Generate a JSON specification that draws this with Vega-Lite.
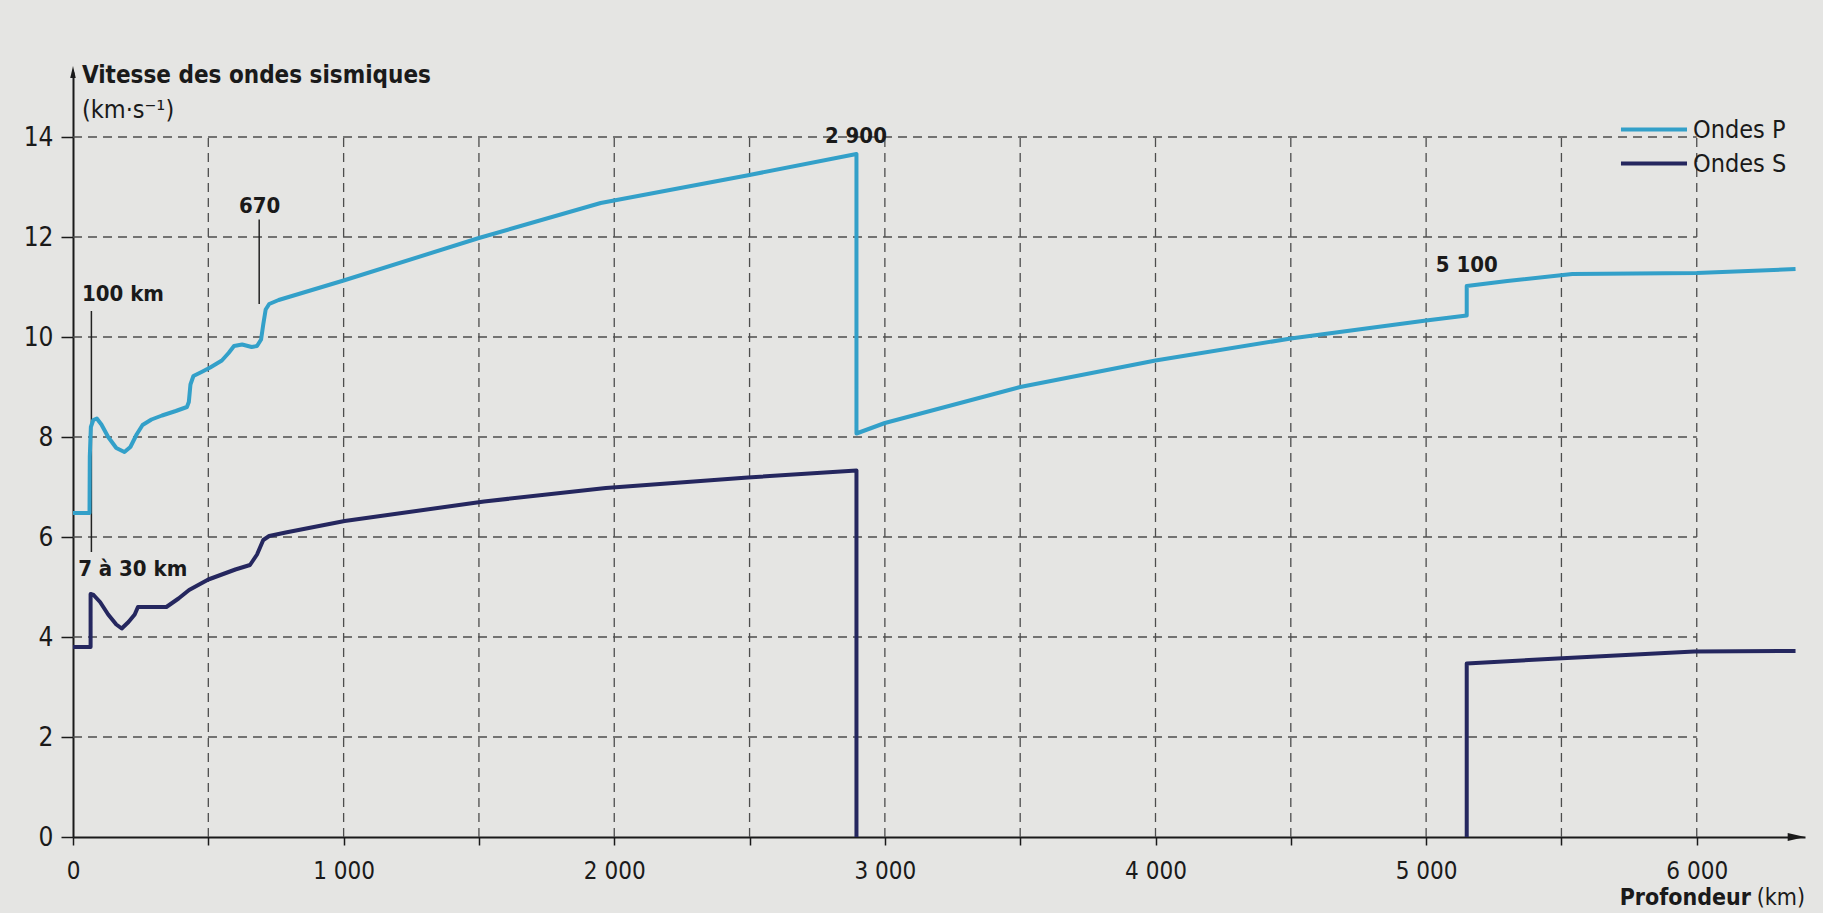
{
  "$schema": "https://vega.github.io/schema/vega-lite/v6.json",
  "width": 1732,
  "height": 765,
  "autosize": {"type": "none"},
  "padding": {"left": 73, "top": 72, "right": 18, "bottom": 76},
  "background": "#e5e5e3",
  "config": {
    "view": {"stroke": null},
    "font": "DejaVu Sans Condensed, DejaVu Sans, sans-serif",
    "text": {"font": "DejaVu Sans Condensed, DejaVu Sans, sans-serif", "color": "#1a1a1a"}
  },
  "datasets": {
    "ondes": [
      {"onde": "Ondes P", "seg": 1, "km": 0, "v": 6.48},
      {"onde": "Ondes P", "seg": 1, "km": 61, "v": 6.48},
      {"onde": "Ondes P", "seg": 1, "km": 62, "v": 7.6},
      {"onde": "Ondes P", "seg": 1, "km": 66, "v": 8.2},
      {"onde": "Ondes P", "seg": 1, "km": 75, "v": 8.34},
      {"onde": "Ondes P", "seg": 1, "km": 88, "v": 8.37},
      {"onde": "Ondes P", "seg": 1, "km": 105, "v": 8.25},
      {"onde": "Ondes P", "seg": 1, "km": 130, "v": 8.0},
      {"onde": "Ondes P", "seg": 1, "km": 160, "v": 7.78},
      {"onde": "Ondes P", "seg": 1, "km": 190, "v": 7.7},
      {"onde": "Ondes P", "seg": 1, "km": 212, "v": 7.8},
      {"onde": "Ondes P", "seg": 1, "km": 235, "v": 8.05},
      {"onde": "Ondes P", "seg": 1, "km": 257, "v": 8.24},
      {"onde": "Ondes P", "seg": 1, "km": 290, "v": 8.35},
      {"onde": "Ondes P", "seg": 1, "km": 329, "v": 8.43},
      {"onde": "Ondes P", "seg": 1, "km": 380, "v": 8.52},
      {"onde": "Ondes P", "seg": 1, "km": 421, "v": 8.6},
      {"onde": "Ondes P", "seg": 1, "km": 428, "v": 8.7},
      {"onde": "Ondes P", "seg": 1, "km": 434, "v": 9.05},
      {"onde": "Ondes P", "seg": 1, "km": 445, "v": 9.22},
      {"onde": "Ondes P", "seg": 1, "km": 475, "v": 9.3},
      {"onde": "Ondes P", "seg": 1, "km": 507, "v": 9.39},
      {"onde": "Ondes P", "seg": 1, "km": 550, "v": 9.53},
      {"onde": "Ondes P", "seg": 1, "km": 575, "v": 9.68},
      {"onde": "Ondes P", "seg": 1, "km": 595, "v": 9.82},
      {"onde": "Ondes P", "seg": 1, "km": 625, "v": 9.85},
      {"onde": "Ondes P", "seg": 1, "km": 660, "v": 9.8},
      {"onde": "Ondes P", "seg": 1, "km": 680, "v": 9.82},
      {"onde": "Ondes P", "seg": 1, "km": 695, "v": 9.95},
      {"onde": "Ondes P", "seg": 1, "km": 703, "v": 10.25},
      {"onde": "Ondes P", "seg": 1, "km": 712, "v": 10.55},
      {"onde": "Ondes P", "seg": 1, "km": 725, "v": 10.66},
      {"onde": "Ondes P", "seg": 1, "km": 760, "v": 10.74},
      {"onde": "Ondes P", "seg": 1, "km": 1000, "v": 11.13},
      {"onde": "Ondes P", "seg": 1, "km": 1500, "v": 11.98},
      {"onde": "Ondes P", "seg": 1, "km": 1950, "v": 12.68},
      {"onde": "Ondes P", "seg": 1, "km": 2490, "v": 13.23},
      {"onde": "Ondes P", "seg": 1, "km": 2895, "v": 13.66},
      {"onde": "Ondes P", "seg": 1, "km": 2895, "v": 8.07},
      {"onde": "Ondes P", "seg": 1, "km": 3000, "v": 8.28},
      {"onde": "Ondes P", "seg": 1, "km": 3500, "v": 9.0},
      {"onde": "Ondes P", "seg": 1, "km": 4000, "v": 9.53},
      {"onde": "Ondes P", "seg": 1, "km": 4500, "v": 9.97},
      {"onde": "Ondes P", "seg": 1, "km": 5000, "v": 10.33},
      {"onde": "Ondes P", "seg": 1, "km": 5150, "v": 10.43},
      {"onde": "Ondes P", "seg": 1, "km": 5150, "v": 11.02},
      {"onde": "Ondes P", "seg": 1, "km": 5300, "v": 11.12},
      {"onde": "Ondes P", "seg": 1, "km": 5540, "v": 11.26},
      {"onde": "Ondes P", "seg": 1, "km": 6000, "v": 11.28},
      {"onde": "Ondes P", "seg": 1, "km": 6365, "v": 11.36},
      {"onde": "Ondes S", "seg": 1, "km": 0, "v": 3.8},
      {"onde": "Ondes S", "seg": 1, "km": 65, "v": 3.8},
      {"onde": "Ondes S", "seg": 1, "km": 65, "v": 4.86},
      {"onde": "Ondes S", "seg": 1, "km": 76, "v": 4.84},
      {"onde": "Ondes S", "seg": 1, "km": 100, "v": 4.7},
      {"onde": "Ondes S", "seg": 1, "km": 130, "v": 4.45},
      {"onde": "Ondes S", "seg": 1, "km": 160, "v": 4.25},
      {"onde": "Ondes S", "seg": 1, "km": 180, "v": 4.17},
      {"onde": "Ondes S", "seg": 1, "km": 205, "v": 4.3},
      {"onde": "Ondes S", "seg": 1, "km": 228, "v": 4.45},
      {"onde": "Ondes S", "seg": 1, "km": 240, "v": 4.6},
      {"onde": "Ondes S", "seg": 1, "km": 290, "v": 4.6},
      {"onde": "Ondes S", "seg": 1, "km": 345, "v": 4.6},
      {"onde": "Ondes S", "seg": 1, "km": 390, "v": 4.77},
      {"onde": "Ondes S", "seg": 1, "km": 429, "v": 4.94},
      {"onde": "Ondes S", "seg": 1, "km": 500, "v": 5.15},
      {"onde": "Ondes S", "seg": 1, "km": 600, "v": 5.35},
      {"onde": "Ondes S", "seg": 1, "km": 654, "v": 5.44},
      {"onde": "Ondes S", "seg": 1, "km": 680, "v": 5.65},
      {"onde": "Ondes S", "seg": 1, "km": 703, "v": 5.94},
      {"onde": "Ondes S", "seg": 1, "km": 725, "v": 6.02},
      {"onde": "Ondes S", "seg": 1, "km": 786, "v": 6.09},
      {"onde": "Ondes S", "seg": 1, "km": 1004, "v": 6.32},
      {"onde": "Ondes S", "seg": 1, "km": 1519, "v": 6.71},
      {"onde": "Ondes S", "seg": 1, "km": 1969, "v": 6.98},
      {"onde": "Ondes S", "seg": 1, "km": 2494, "v": 7.19},
      {"onde": "Ondes S", "seg": 1, "km": 2895, "v": 7.33},
      {"onde": "Ondes S", "seg": 1, "km": 2895, "v": 0},
      {"onde": "Ondes S", "seg": 2, "km": 5150, "v": 0},
      {"onde": "Ondes S", "seg": 2, "km": 5150, "v": 3.47},
      {"onde": "Ondes S", "seg": 2, "km": 5485, "v": 3.57},
      {"onde": "Ondes S", "seg": 2, "km": 5991, "v": 3.71},
      {"onde": "Ondes S", "seg": 2, "km": 6365, "v": 3.72}
    ],
    "gridV": [
      {"km": 500}, {"km": 1000}, {"km": 1500}, {"km": 2000}, {"km": 2500}, {"km": 3000},
      {"km": 3500}, {"km": 4000}, {"km": 4500}, {"km": 5000}, {"km": 5500}, {"km": 6000}
    ],
    "gridH": [
      {"v": 2}, {"v": 4}, {"v": 6}, {"v": 8}, {"v": 10}, {"v": 12}, {"v": 14}
    ],
    "leaders": [
      {"km": 68, "v1": 5.7, "v2": 10.52},
      {"km": 688, "v1": 10.66, "v2": 12.35}
    ],
    "boldLeft": [
      {"km": 33, "v": 10.87, "t": "100 km"},
      {"km": 19, "v": 5.36, "t": "7 à 30 km"}
    ],
    "titre": [
      {"km": 33, "v": 15.23, "t": "Vitesse des ondes sismiques"}
    ],
    "boldCenter": [
      {"km": 690, "v": 12.63, "t": "670"},
      {"km": 2893, "v": 14.03, "t": "2 900"},
      {"km": 5150, "v": 11.45, "t": "5 100"}
    ],
    "regLeft": [
      {"km": 33, "v": 14.55, "t": "(km·s⁻¹)"}
    ],
    "xTitleBold": [{"km": 6400, "v": -1.22, "t": "Profondeur"}],
    "xTitleReg": [{"km": 6400, "v": -1.22, "t": "(km)"}],
    "legende": [
      {"onde": "Ondes P", "km0": 5720, "km1": 5964, "v": 14.15},
      {"onde": "Ondes S", "km0": 5720, "km1": 5964, "v": 13.47}
    ],
    "flecheY": [{"km": 0, "v": 15.3}],
    "flecheX": [{"km": 6368, "v": 0}]
  },
  "layer": [
    {
      "data": {"name": "gridV"},
      "mark": {"type": "rule", "stroke": "#4d4d4d", "strokeWidth": 1.3, "strokeDash": [9, 6]},
      "encoding": {
        "x": {"field": "km", "type": "quantitative", "scale": {"domain": [0, 6400], "nice": false, "zero": false}},
        "y": {"datum": 0, "type": "quantitative", "scale": {"domain": [0, 15.3], "nice": false, "zero": false}},
        "y2": {"datum": 14}
      }
    },
    {
      "data": {"name": "gridH"},
      "mark": {"type": "rule", "stroke": "#4d4d4d", "strokeWidth": 1.3, "strokeDash": [9, 6]},
      "encoding": {
        "y": {"field": "v", "type": "quantitative"},
        "x": {"datum": 0, "type": "quantitative"},
        "x2": {"datum": 6000}
      }
    },
    {
      "data": {"name": "leaders"},
      "mark": {"type": "rule", "stroke": "#222222", "strokeWidth": 1.5},
      "encoding": {
        "x": {"field": "km", "type": "quantitative"},
        "y": {"field": "v1", "type": "quantitative"},
        "y2": {"field": "v2"}
      }
    },
    {
      "data": {"name": "ondes"},
      "mark": {"type": "line", "strokeWidth": 4, "strokeJoin": "round", "interpolate": "linear"},
      "encoding": {
        "x": {
          "field": "km", "type": "quantitative",
          "axis": {
            "values": [0, 500, 1000, 1500, 2000, 2500, 3000, 3500, 4000, 4500, 5000, 5500, 6000],
            "labelExpr": "datum.value % 1000 === 0 ? replace(format(datum.value, ','), ',', ' ') : ''",
            "title": null, "grid": false,
            "domainColor": "#1a1a1a", "domainWidth": 2,
            "tickColor": "#1a1a1a", "tickWidth": 1.5, "tickSize": 8,
            "labelFont": "DejaVu Sans Condensed, DejaVu Sans, sans-serif",
            "labelFontSize": 24, "labelColor": "#1a1a1a", "labelPadding": 14,
            "labelFlush": false, "labelOverlap": false, "labelBound": false
          }
        },
        "y": {
          "field": "v", "type": "quantitative",
          "axis": {
            "values": [0, 2, 4, 6, 8, 10, 12, 14],
            "title": null, "grid": false,
            "domainColor": "#1a1a1a", "domainWidth": 2,
            "tickColor": "#1a1a1a", "tickWidth": 1.5, "tickSize": 12,
            "labelFont": "DejaVu Sans Condensed, DejaVu Sans, sans-serif",
            "labelFontSize": 26, "labelColor": "#1a1a1a", "labelPadding": 8,
            "labelOverlap": false, "labelBound": false
          }
        },
        "color": {"field": "onde", "type": "nominal", "scale": {"domain": ["Ondes P", "Ondes S"], "range": ["#33a0c9", "#25275f"]}, "legend": null},
        "detail": {"field": "seg", "type": "nominal"},
        "order": {"value": null}
      }
    },
    {
      "data": {"name": "legende"},
      "mark": {"type": "rule", "strokeWidth": 4},
      "encoding": {
        "x": {"field": "km0", "type": "quantitative"},
        "x2": {"field": "km1"},
        "y": {"field": "v", "type": "quantitative"},
        "color": {"field": "onde", "type": "nominal", "legend": null}
      }
    },
    {
      "data": {"name": "legende"},
      "mark": {"type": "text", "align": "left", "baseline": "middle", "dx": 6, "fontSize": 25},
      "encoding": {
        "x": {"field": "km1", "type": "quantitative"},
        "y": {"field": "v", "type": "quantitative"},
        "text": {"field": "onde"}
      }
    },
    {
      "data": {"name": "titre"},
      "mark": {"type": "text", "align": "left", "baseline": "middle", "fontSize": 24, "fontWeight": "bold"},
      "encoding": {
        "x": {"field": "km", "type": "quantitative"},
        "y": {"field": "v", "type": "quantitative"},
        "text": {"field": "t"}
      }
    },
    {
      "data": {"name": "boldLeft"},
      "mark": {"type": "text", "align": "left", "baseline": "middle", "fontSize": 22, "fontWeight": "bold"},
      "encoding": {
        "x": {"field": "km", "type": "quantitative"},
        "y": {"field": "v", "type": "quantitative"},
        "text": {"field": "t"}
      }
    },
    {
      "data": {"name": "boldCenter"},
      "mark": {"type": "text", "align": "center", "baseline": "middle", "fontSize": 22, "fontWeight": "bold"},
      "encoding": {
        "x": {"field": "km", "type": "quantitative"},
        "y": {"field": "v", "type": "quantitative"},
        "text": {"field": "t"}
      }
    },
    {
      "data": {"name": "regLeft"},
      "mark": {"type": "text", "align": "left", "baseline": "middle", "fontSize": 25},
      "encoding": {
        "x": {"field": "km", "type": "quantitative"},
        "y": {"field": "v", "type": "quantitative"},
        "text": {"field": "t"}
      }
    },
    {
      "data": {"name": "xTitleReg"},
      "mark": {"type": "text", "align": "right", "baseline": "middle", "fontSize": 23, "clip": false},
      "encoding": {
        "x": {"field": "km", "type": "quantitative"},
        "y": {"field": "v", "type": "quantitative"},
        "text": {"field": "t"}
      }
    },
    {
      "data": {"name": "xTitleBold"},
      "mark": {"type": "text", "align": "right", "baseline": "middle", "fontSize": 23, "fontWeight": "bold", "dx": -54, "clip": false},
      "encoding": {
        "x": {"field": "km", "type": "quantitative"},
        "y": {"field": "v", "type": "quantitative"},
        "text": {"field": "t"}
      }
    },
    {
      "data": {"name": "flecheY"},
      "mark": {"type": "point", "filled": true, "color": "#1a1a1a", "size": 150, "opacity": 1, "shape": "M0,-1L0.45,1L-0.45,1Z"},
      "encoding": {
        "x": {"field": "km", "type": "quantitative"},
        "y": {"field": "v", "type": "quantitative"}
      }
    },
    {
      "data": {"name": "flecheX"},
      "mark": {"type": "point", "filled": true, "color": "#1a1a1a", "size": 300, "opacity": 1, "shape": "M1,0L-1,0.45L-1,-0.45Z"},
      "encoding": {
        "x": {"field": "km", "type": "quantitative"},
        "y": {"field": "v", "type": "quantitative"}
      }
    }
  ]
}
